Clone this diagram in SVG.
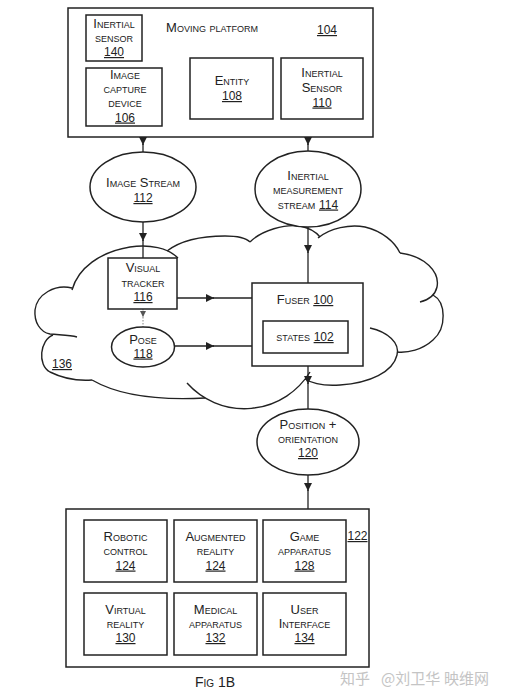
<svg xmlns="http://www.w3.org/2000/svg" width="505" height="700" viewBox="0 0 505 700">
<style>
.t{font-family:"Liberation Sans",Arial,sans-serif;font-size:13px;font-variant:small-caps;text-anchor:middle;fill:#222}
.n{font-size:12px;text-decoration:underline;font-variant:normal}
.box{fill:#fff;stroke:#222;stroke-width:1.5}
.ln{fill:none;stroke:#222;stroke-width:1.3}
.dot{fill:none;stroke:#999;stroke-width:1.2;stroke-dasharray:1.5,1.5}
.cl{fill:none;stroke:#222;stroke-width:1.4}
.wm{font-family:"Noto Sans CJK SC","Noto Sans",sans-serif;font-size:15px;fill:#c4c4c4}
</style>
<defs>
<marker id="ah" viewBox="0 0 10 10" refX="10" refY="5" markerWidth="9" markerHeight="8" orient="auto" markerUnits="userSpaceOnUse"><path d="M0,0 L10,5 L0,10 z" fill="#222"/></marker>
<marker id="ahg" viewBox="0 0 10 10" refX="10" refY="5" markerWidth="7" markerHeight="6" orient="auto" markerUnits="userSpaceOnUse"><path d="M0,0 L10,5 L0,10 z" fill="#555"/></marker>
</defs>
<rect width="505" height="700" fill="#fff"/>

<g id="cloud-136">
<path class="cl" d="M72,290 C78,268 100,252 130,247 C150,244 168,248 178,258"/>
<path class="cl" d="M167,251 C180,241 200,236 225,236 C238,236 246,238 250,242"/>
<path class="cl" d="M250,242 C262,230 285,224 300,226 C310,228 316,232 320,237"/>
<path class="cl" d="M318,238 C330,228 350,224 365,227 C382,231 395,242 400,253"/>
<path class="cl" d="M400,253 C425,256 440,272 437,287 C435,296 428,300 420,302"/>
<path class="cl" d="M433,295 C446,302 447,328 433,340 C422,350 408,353 397,352"/>
<path class="cl" d="M370,328 C388,332 400,343 397,355 C393,372 370,383 340,385 C325,386 313,384 305,379"/>
<path class="cl" d="M187,383 A77,77 0 0 0 310,372"/>
<path class="cl" d="M92,380 Q130,402 205,398"/>
<path class="cl" d="M53,335 C40,340 37,365 50,372 C62,378 78,381 92,380"/>
<path class="cl" d="M72,288 C55,284 37,294 35,310 C34,322 40,332 50,334 C60,335 70,335 77,337"/>
<text class="t n" x="62" y="368">136</text>
</g>

<g id="connectors">
<path class="ln" d="M143,137 L143,145" marker-end="url(#ah)"/><path class="ln" d="M143,144 L143,152"/>
<path class="ln" d="M308,137 L308,145" marker-end="url(#ah)"/><path class="ln" d="M308,144 L308,151"/>
<path class="ln" d="M143,222 L143,241" marker-end="url(#ah)"/><path class="ln" d="M143,240 L143,258"/>
<path class="dot" d="M143,309 L143,317" marker-end="url(#ahg)"/><path class="dot" d="M143,317 L143,327"/>
<path class="ln" d="M177,298 L214,298" marker-end="url(#ah)"/><path class="ln" d="M213,298 L252,298"/>
<path class="ln" d="M174,346 L214,346" marker-end="url(#ah)"/><path class="ln" d="M213,346 L252,346"/>
<path class="ln" d="M308,227 L308,253" marker-end="url(#ah)"/><path class="ln" d="M308,252 L308,283"/>
<path class="ln" d="M308,366 L308,384" marker-end="url(#ah)"/><path class="ln" d="M308,383 L308,409"/>
<path class="ln" d="M308,475 L308,491" marker-end="url(#ah)"/><path class="ln" d="M308,490 L308,509"/>
<path class="ln" d="M273,89 L281,89"/>
</g>

<g id="moving-platform-104">
<rect class="box" x="68" y="8" width="305" height="129"/>
<text class="t" x="212" y="32">Moving platform</text>
<text class="t n" x="327" y="34">104</text>
</g>
<g id="inertial-sensor-140">
<rect class="box" x="86" y="15" width="56" height="46"/>
<text class="t" x="114" y="28">Inertial</text>
<text class="t" x="114" y="42">sensor</text>
<text class="t n" x="114" y="56">140</text>
</g>
<g id="image-capture-106">
<rect class="box" x="86" y="68" width="76" height="58"/>
<text class="t" x="125" y="79">Image</text>
<text class="t" x="125" y="93">capture</text>
<text class="t" x="125" y="107">device</text>
<text class="t n" x="125" y="121.5">106</text>
</g>
<g id="entity-108">
<rect class="box" x="190" y="58" width="83" height="61"/>
<text class="t" x="232" y="85">Entity</text>
<text class="t n" x="232" y="100">108</text>
</g>
<g id="inertial-sensor-110">
<rect class="box" x="281" y="58" width="82" height="61"/>
<text class="t" x="322" y="77">Inertial</text>
<text class="t" x="322" y="92">Sensor</text>
<text class="t n" x="322" y="106.5">110</text>
</g>

<g id="image-stream-112">
<ellipse class="box" cx="143" cy="187" rx="53" ry="35"/>
<text class="t" x="143" y="187">Image Stream</text>
<text class="t n" x="143" y="202">112</text>
</g>
<g id="inertial-stream-114">
<ellipse class="box" cx="308" cy="189" rx="53" ry="38"/>
<text class="t" x="308" y="180">Inertial</text>
<text class="t" x="308" y="193.5">measurement</text>
<text class="t" x="308" y="208.5">stream <tspan class="n">114</tspan></text>
</g>

<g id="visual-tracker-116">
<rect class="box" x="108" y="258" width="69" height="51"/>
<text class="t" x="143" y="272">Visual</text>
<text class="t" x="143" y="287">tracker</text>
<text class="t n" x="143" y="301">116</text>
</g>
<g id="pose-118">
<ellipse class="box" cx="143" cy="347" rx="31.5" ry="20"/>
<text class="t" x="143" y="343.5">Pose</text>
<text class="t n" x="143" y="357.5">118</text>
</g>
<g id="fuser-100">
<rect class="box" x="252" y="283" width="111" height="83"/>
<text class="t" x="305" y="304">Fuser <tspan class="n">100</tspan></text>
</g>
<g id="states-102">
<rect class="box" x="263" y="321" width="85" height="32"/>
<text class="t" x="305" y="341">states <tspan class="n">102</tspan></text>
</g>

<g id="position-orientation-120">
<ellipse class="box" cx="308" cy="442" rx="51" ry="33"/>
<text class="t" x="308" y="428.5">Position +</text>
<text class="t" x="308" y="443">orientation</text>
<text class="t n" x="308" y="457">120</text>
</g>

<g id="applications-122">
<rect class="box" x="66" y="509" width="303" height="158"/>
<text class="t n" x="357.5" y="540">122</text>
</g>
<g id="robotic-control-124">
<rect class="box" x="84" y="520" width="83" height="62"/>
<text class="t" x="125.5" y="541">Robotic</text>
<text class="t" x="125.5" y="555">control</text>
<text class="t n" x="125.5" y="569.5">124</text>
</g>
<g id="augmented-reality-124">
<rect class="box" x="174" y="520" width="83" height="62"/>
<text class="t" x="215.5" y="541">Augmented</text>
<text class="t" x="215.5" y="555">reality</text>
<text class="t n" x="215.5" y="569.5">124</text>
</g>
<g id="game-apparatus-128">
<rect class="box" x="263" y="520" width="83" height="62"/>
<text class="t" x="304.5" y="541">Game</text>
<text class="t" x="304.5" y="555">apparatus</text>
<text class="t n" x="304.5" y="569.5">128</text>
</g>
<g id="virtual-reality-130">
<rect class="box" x="84" y="593" width="83" height="62"/>
<text class="t" x="125.5" y="613.5">Virtual</text>
<text class="t" x="125.5" y="628">reality</text>
<text class="t n" x="125.5" y="642">130</text>
</g>
<g id="medical-apparatus-132">
<rect class="box" x="174" y="593" width="83" height="62"/>
<text class="t" x="215.5" y="613.5">Medical</text>
<text class="t" x="215.5" y="628">apparatus</text>
<text class="t n" x="215.5" y="642">132</text>
</g>
<g id="user-interface-134">
<rect class="box" x="263" y="593" width="83" height="62"/>
<text class="t" x="304.5" y="613.5">User</text>
<text class="t" x="304.5" y="628">Interface</text>
<text class="t n" x="304.5" y="642">134</text>
</g>

<text class="t" x="215" y="687" style="font-size:14px">Fig 1B</text>
<text class="wm" x="340" y="684">知乎</text>
<text class="wm" x="381" y="684">@刘卫华</text>
<text class="wm" x="444" y="684">映维网</text>
</svg>
